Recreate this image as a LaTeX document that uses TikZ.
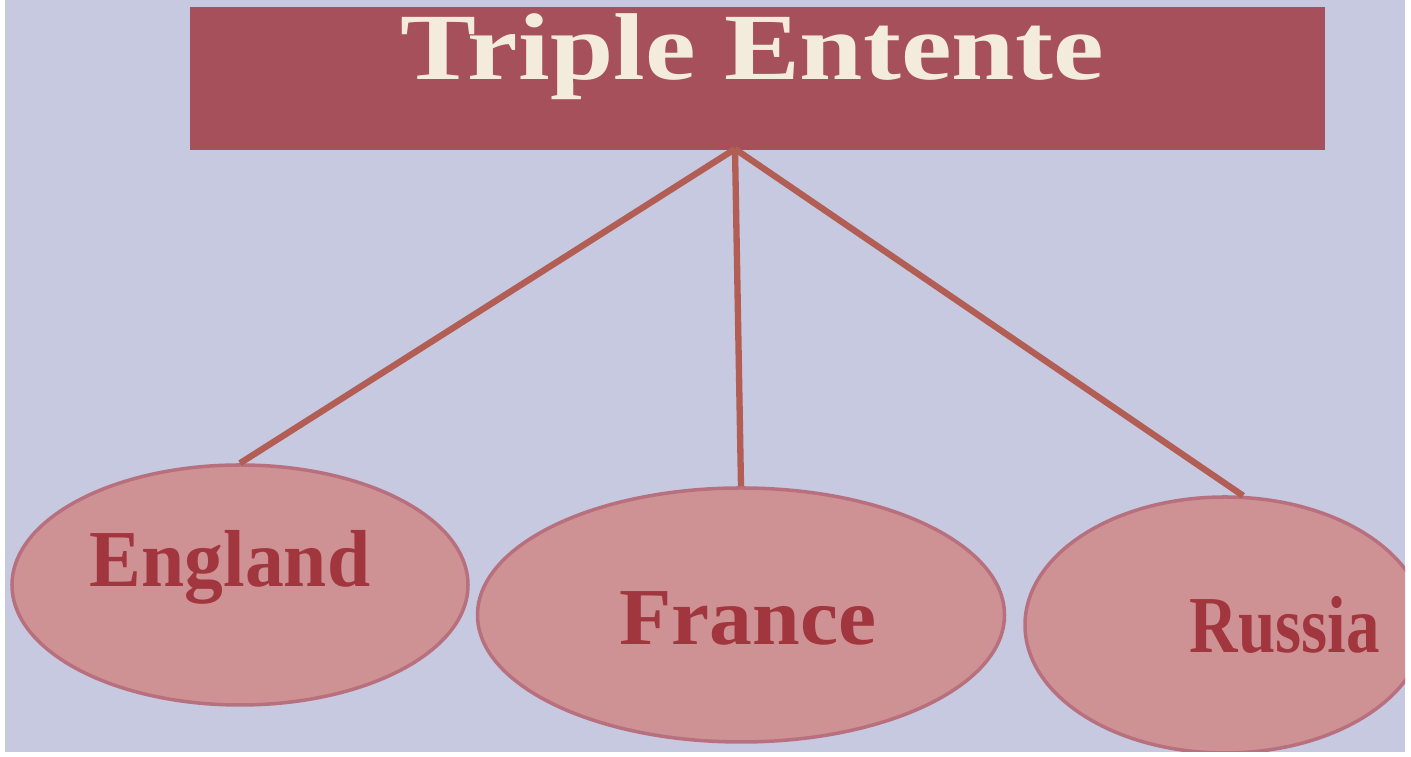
\documentclass[tikz,border=0pt]{standalone}
\usepackage{fontspec}
\setmainfont{Liberation Serif}
\usetikzlibrary{shapes}
\usetikzlibrary{calc}

\definecolor{paper}{HTML}{C6C9E0}
\definecolor{boxred}{HTML}{A5505B}
\definecolor{cream}{HTML}{F3ECDC}
\definecolor{blob}{HTML}{CF9294}
\definecolor{blobedge}{HTML}{B9707E}
\definecolor{inkred}{HTML}{A2363F}
\definecolor{wire}{HTML}{B25E55}

\tikzset{
	country/.style={draw=blobedge, line width=1pt, fill=blob, ellipse, inner sep=0pt},
	countryname/.style={text=inkred, font=\bfseries\fontsize{23}{25}\selectfont, anchor=base, inner sep=0pt},
	link/.style={draw=wire, line width=1.8pt}
}

\begin{document}
\begin{tikzpicture}
	\useasboundingbox (0,0) rectangle (14.11,7.57);
	\fill[white] (0,0) rectangle (14.11,7.57);
	\fill[paper] (0.05,0.05) rectangle (14.05,7.57);
	% heading
	\node[fill=boxred, rectangle, minimum width=11.35cm, minimum height=1.43cm, inner sep=0pt] (title) at (7.575,6.785) {};
	\node[text=cream, anchor=base, inner sep=0pt, font=\bfseries\fontsize{27}{30}\selectfont] (titletext) at (7.52,6.77) {\scalebox{1.2}[1]{Triple Entente}};
	\coordinate (hub) at (7.35,6.08);
	% the three members
	\begin{scope}
		\clip (0.05,0.05) rectangle (14.05,7.57);
		\node[country, minimum width=4.56cm, minimum height=2.40cm] (eng) at (2.40,1.72) {};
		\node[country, minimum width=5.27cm, minimum height=2.54cm] (fra) at (7.41,1.42) {};
		\node[country, minimum width=4.00cm, minimum height=2.56cm] (rus) at (12.25,1.32) {};
	\end{scope}
	\node[countryname] (engname) at (2.30,1.70) {\scalebox{0.96}[1]{England}};
	\node[countryname] (franame) at (7.48,1.12) {\scalebox{1.06}[1]{France}};
	\node[countryname] (rusname) at (12.85,1.04) {\scalebox{0.83}[1]{Russia}};
	\draw[link] (hub) -- (eng.north);
	\draw[link] (hub) -- (fra.north);
	\draw[link] (hub) -- (rus.82);
\end{tikzpicture}
\end{document}
